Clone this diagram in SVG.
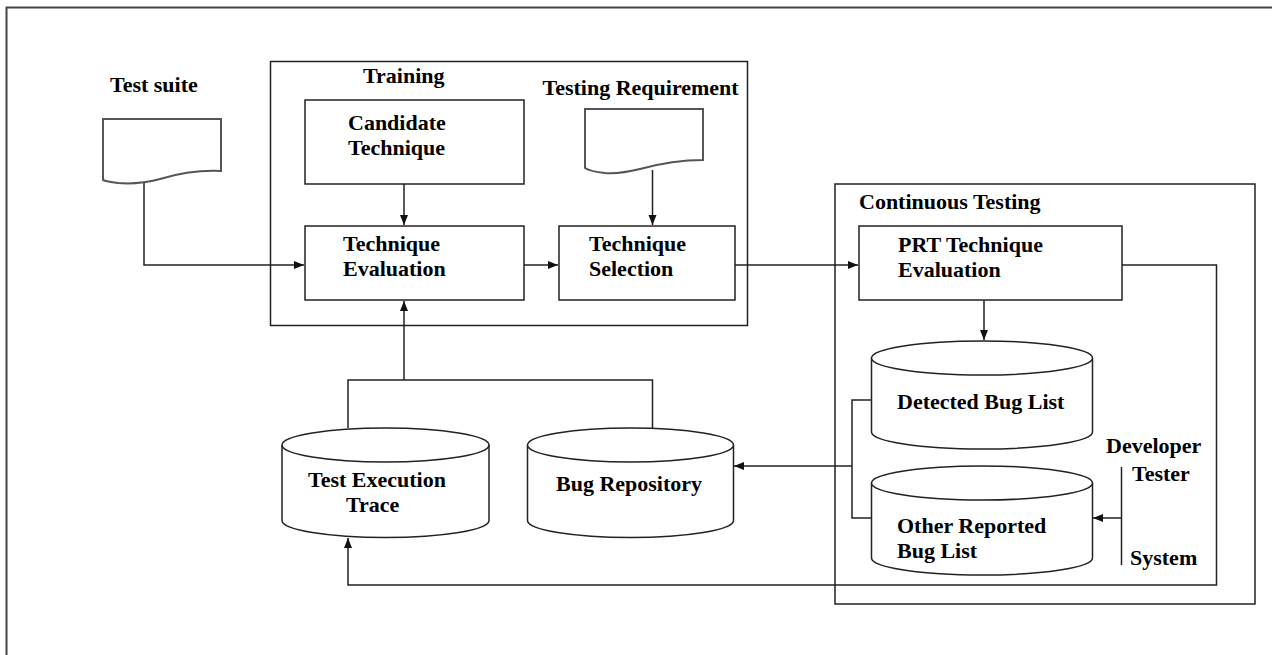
<svg xmlns="http://www.w3.org/2000/svg" width="1272" height="655" viewBox="0 0 1272 655">
<style>
.ln{fill:none;stroke:#222;stroke-width:1.5}
.bx{fill:#fff;stroke:#222;stroke-width:1.5}
.dc{fill:#fff;stroke:#555;stroke-width:2}
.t{font-family:"Liberation Serif","Times New Roman",serif;font-weight:bold;font-size:22px;fill:#000}
</style>
<defs>
<marker id="ar" viewBox="0 0 10 10" refX="10" refY="5" markerWidth="10" markerHeight="10" markerUnits="userSpaceOnUse" orient="auto">
<path d="M0,1 L10,5 L0,9 Z" fill="#111"/>
</marker>
</defs>
<rect width="1272" height="655" fill="#fff"/>
<path d="M6.5,655 V7.5 H1272" fill="none" stroke="#444" stroke-width="2"/>

<g id="training">
<rect x="270.5" y="61.5" width="477" height="264" class="ln"/>
<text class="t" x="363" y="83">Training</text>
</g>
<g id="continuous-testing">
<rect x="835" y="184" width="420" height="420" class="ln"/>
<text class="t" x="859" y="209">Continuous Testing</text>
</g>

<g id="connectors">
<path d="M144,183 V265 H304" class="ln" marker-end="url(#ar)"/>
<path d="M404,184 V225" class="ln" marker-end="url(#ar)"/>
<path d="M524,265 H558" class="ln" marker-end="url(#ar)"/>
<path d="M652.5,170 V225" class="ln" marker-end="url(#ar)"/>
<path d="M735,265 H858" class="ln" marker-end="url(#ar)"/>
<path d="M984,300 V340" class="ln" marker-end="url(#ar)"/>
<path d="M1122,265 H1216.5 V585 H348 V538" class="ln" marker-end="url(#ar)"/>
<path d="M348,428 V380 H652.5 V428" class="ln"/>
<path d="M404,380 V301" class="ln" marker-end="url(#ar)"/>
<path d="M872,400 H852 V518 H872" class="ln"/>
<path d="M852,466 H734" class="ln" marker-end="url(#ar)"/>
<path d="M1121.5,467 V565" class="ln"/>
<path d="M1121.5,518 H1093" class="ln" marker-end="url(#ar)"/>
</g>

<g id="test-suite">
<text class="t" x="110" y="92">Test suite</text>
<path d="M103,119 H221 V171 C200,170 180,173 160,179 C145,183 130,184 118,183 C110,182 105,181 103,180 Z" class="dc"/>
</g>
<g id="testing-requirement">
<text class="t" x="542.5" y="95">Testing Requirement</text>
<path d="M585,109 H703 V160 C682,160 662,163 640,169 C628,172 618,174 605,173 C595,172 588,170 585,168 Z" class="dc"/>
</g>
<g id="candidate-technique">
<rect x="305" y="100" width="219" height="84" class="bx"/>
<text class="t" x="348" y="130">Candidate</text>
<text class="t" x="348" y="155">Technique</text>
</g>
<g id="technique-evaluation">
<rect x="305" y="226" width="219" height="74" class="bx"/>
<text class="t" x="343" y="251">Technique</text>
<text class="t" x="343" y="276">Evaluation</text>
</g>
<g id="technique-selection">
<rect x="559" y="226" width="176" height="74" class="bx"/>
<text class="t" x="589" y="251">Technique</text>
<text class="t" x="589" y="276">Selection</text>
</g>
<g id="prt-technique-evaluation">
<rect x="859" y="226" width="263" height="74" class="bx"/>
<text class="t" x="898" y="252">PRT Technique</text>
<text class="t" x="898" y="277">Evaluation</text>
</g>
<g id="detected-bug-list">
<path d="M871.5,358 V432 A110.5,17 0 0 0 1092.5,432 V358" class="bx"/>
<ellipse cx="982" cy="358" rx="110.5" ry="17" class="bx"/>
<text class="t" x="897" y="409">Detected Bug List</text>
</g>
<g id="other-reported-bug-list">
<path d="M871.5,483 V558 A110.5,17 0 0 0 1092.5,558 V483" class="bx"/>
<ellipse cx="982" cy="483" rx="110.5" ry="17" class="bx"/>
<text class="t" x="897" y="533">Other Reported</text>
<text class="t" x="897" y="558">Bug List</text>
</g>
<g id="test-execution-trace">
<path d="M282,445 V520.5 A103.5,17 0 0 0 489,520.5 V445" class="bx"/>
<ellipse cx="385.5" cy="445" rx="103.5" ry="17" class="bx"/>
<text class="t" x="308" y="487">Test Execution</text>
<text class="t" x="346" y="512">Trace</text>
</g>
<g id="bug-repository">
<path d="M527.5,445 V520.5 A103,17 0 0 0 733.5,520.5 V445" class="bx"/>
<ellipse cx="630.5" cy="445" rx="103" ry="17" class="bx"/>
<text class="t" x="556" y="491">Bug Repository</text>
</g>
<g id="developer-tester-system">
<text class="t" x="1106" y="453">Developer</text>
<text class="t" x="1132" y="481">Tester</text>
<text class="t" x="1130" y="565">System</text>
</g>
</svg>
